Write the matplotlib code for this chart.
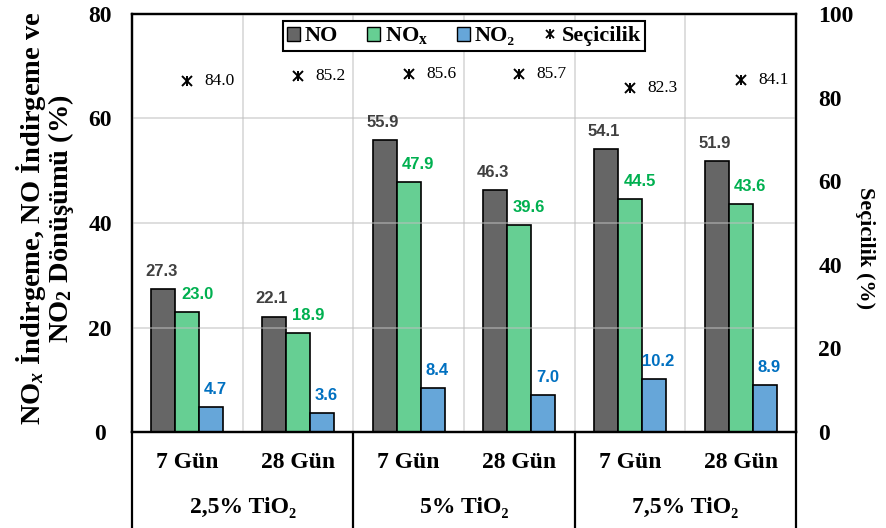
import matplotlib
matplotlib.use("Agg")
import matplotlib.pyplot as plt
from matplotlib.lines import Line2D
from matplotlib.patches import Patch
from matplotlib.legend_handler import HandlerTuple
import numpy as np

plt.rcParams['mathtext.fontset'] = 'custom'
plt.rcParams['mathtext.rm'] = 'Liberation Serif:bold'
plt.rcParams['mathtext.bf'] = 'Liberation Serif:bold'
plt.rcParams['mathtext.it'] = 'Liberation Serif:bold:italic'

# ---- data ----
days = ["7 Gün", "28 Gün", "7 Gün", "28 Gün", "7 Gün", "28 Gün"]
groups = ["2,5% TiO₂", "5% TiO₂", "7,5% TiO₂"]
no_vals = [27.3, 22.1, 55.9, 46.3, 54.1, 51.9]
nox_vals = [23.0, 18.9, 47.9, 39.6, 44.5, 43.6]
no2_vals = [4.7, 3.6, 8.4, 7.0, 10.2, 8.9]
sel_vals = [84.0, 85.2, 85.6, 85.7, 82.3, 84.1]
left_ticks = [0, 20, 40, 60, 80]
right_ticks = [0, 20, 40, 60, 80, 100]

serif = ['Liberation Serif', 'DejaVu Serif']
sans = ['Liberation Sans', 'DejaVu Sans']

c_no, c_nox, c_no2 = '#666666', '#66CF93', '#66A6D9'
lc_no, lc_nox, lc_no2 = '#404040', '#00B050', '#0070C0'

fig = plt.figure(figsize=(8.86, 5.28), dpi=100)
ax = fig.add_axes([132/886, 1-432/528, 664/886, 418/528])
ax2 = ax.twinx()

x = np.arange(len(days))
w = 0.217
bars = []
for off, vals, col in [(-w, no_vals, c_no), (0, nox_vals, c_nox), (w, no2_vals, c_no2)]:
    bars.append(ax.bar(x + off, vals, w, color=col, edgecolor='black', linewidth=1.2, zorder=2))

# data labels
for rects, vals, col, dx in [(bars[0], no_vals, lc_no, -1.5), (bars[1], nox_vals, lc_nox, 7),
                             (bars[2], no2_vals, lc_no2, 3)]:
    for r, v in zip(rects, vals):
        ax.annotate(f"{v:.1f}", (r.get_x() + r.get_width()/2, v), xytext=(dx, 9.5),
                    textcoords='offset points', ha='center', va='baseline',
                    fontsize=12, fontweight='bold', family=sans, color=col, zorder=5)

ax.set_xlim(-0.5, 5.5)
ax.set_ylim(0, 80)
ax.set_yticks(left_ticks)
ax.set_xticks([])
ax.tick_params(axis='y', length=0, pad=23, labelsize=17)
for lab in ax.get_yticklabels():
    lab.set_fontfamily(serif)
    lab.set_fontweight('bold')
    lab.set_horizontalalignment('center')

# gridlines on top of bars
for yv in left_ticks[1:-1]:
    ax.axhline(yv, color='#BFBFBF', lw=1.2, alpha=0.6, zorder=3)
for xv in np.arange(0.5, 5.5, 1.0):
    ax.axvline(xv, color='#BFBFBF', lw=1.2, alpha=0.6, zorder=3)

for sp in ax.spines.values():
    sp.set_linewidth(1.6)
for sp in ax2.spines.values():
    sp.set_linewidth(1.6)

# selectivity
ax2.set_ylim(0, 100)
ax2.set_yticks(right_ticks)
ax2.tick_params(axis='y', length=0, pad=16, labelsize=17)
for lab in ax2.get_yticklabels():
    lab.set_fontfamily(serif)
    lab.set_fontweight('bold')
ax2.plot(x, sel_vals, linestyle='none', marker='x', color='black', markersize=6.5, mew=1.4, zorder=4)
ax2.plot(x, sel_vals, linestyle='none', marker='|', color='black', markersize=7.5, mew=1.4, zorder=4)
for xi, v in zip(x, sel_vals):
    ax2.annotate(f"{v:.1f}", (xi, v), xytext=(12.5, 0), textcoords='offset points',
                 ha='left', va='center', fontsize=12.5, family=serif, color='black')

# x category labels and table lines
trans = ax.get_xaxis_transform()
for xi, d in zip(x, days):
    ax.text(xi, -30/418, d, transform=trans, ha='center', va='center',
            fontsize=17, fontweight='bold', family=serif)
for gi, g in enumerate(groups):
    ax.text(2*gi + 0.5, -76/418, g, transform=trans, ha='center', va='center',
            fontsize=17, fontweight='bold', family=serif)
for xv in [-0.5, 1.5, 3.5, 5.5]:
    ax.add_line(Line2D([xv, xv], [0, -100/418], transform=trans, color='black',
                       lw=1.6, clip_on=False))

# axis labels
fig.text(45/886, 1-218/528, "NO$_{\\mathit{x}}$ İndirgeme, NO İndirgeme ve\nNO$_2$ Dönüşümü (%)",
         rotation=90, ha='center', va='center', multialignment='center',
         fontsize=20.5, fontweight='bold', family=serif, linespacing=0.95)
fig.text(865/886, 1-248/528, "Seçicilik (%)", rotation=270, ha='center', va='center',
         fontsize=16, fontweight='bold', family=serif)

# legend
h_no = Patch(facecolor=c_no, edgecolor='black', linewidth=1.0)
h_nox = Patch(facecolor=c_nox, edgecolor='black', linewidth=1.0)
h_no2 = Patch(facecolor=c_no2, edgecolor='black', linewidth=1.0)
h_sel = (Line2D([], [], linestyle='none', marker='x', color='black', markersize=6, mew=1.3),
         Line2D([], [], linestyle='none', marker='|', color='black', markersize=7, mew=1.3))
leg = ax2.legend([h_no, h_nox, h_no2, h_sel], ["NO", "NO$_\\mathbf{x}$", "NO₂", "Seçicilik"],
                 handler_map={tuple: HandlerTuple(ndivide=1, pad=0)},
                 loc='upper center', bbox_to_anchor=(0.5, 1 - 7/418), ncol=4,
                 prop={'family': serif, 'weight': 'bold', 'size': 16},
                 frameon=True, fancybox=False, framealpha=1, edgecolor='black',
                 handlelength=0.6, handleheight=0.6, handletextpad=0.2, columnspacing=1.3,
                 borderpad=0.2, borderaxespad=0)
leg.get_frame().set_linewidth(1.5)
leg.set_zorder(10)

fig.savefig("out.png", dpi=100)
